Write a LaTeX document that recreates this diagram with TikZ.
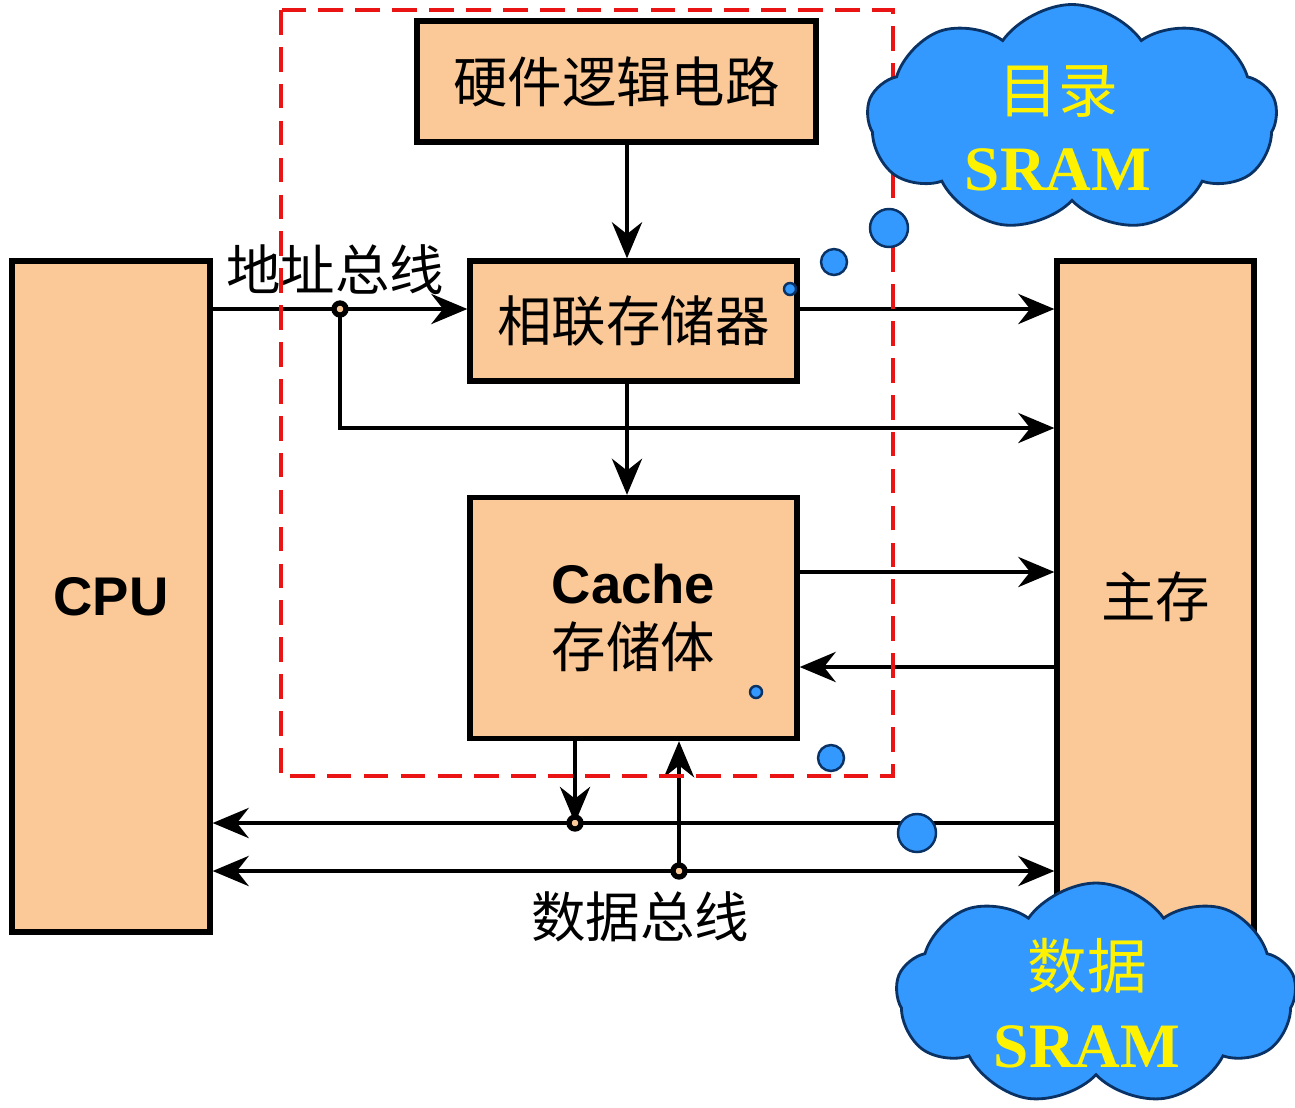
\documentclass[tikz,border=0pt]{standalone}
\usepackage{fontspec}
\setmainfont{Liberation Serif}
\setsansfont{Liberation Sans}
\newfontfamily\cjk{Noto Sans CJK SC}
\usetikzlibrary{arrows.meta,shapes.symbols}
\definecolor{peach}{RGB}{251,201,151}
\definecolor{sky}{RGB}{51,153,255}
\definecolor{navy}{RGB}{10,50,100}
\definecolor{dashred}{RGB}{235,20,20}
\tikzset{
  blk/.style={draw=black,fill=peach,line width=1.5pt,inner sep=0pt,font=\cjk\fontsize{15.5}{19}\selectfont},
  arr/.style={-{Stealth[length=3.6mm,width=3mm]},line width=1.4pt},
  darr/.style={{Stealth[length=3.6mm,width=3mm]}-{Stealth[length=3.6mm,width=3mm]},line width=1.4pt},
  jdot/.style={circle,draw=black,fill=peach,line width=1.5pt,inner sep=0pt,minimum size=1.2mm},
  bubble/.style={circle,draw=navy,fill=sky,line width=0.7pt,inner sep=0pt},
  thought/.style={cloud,cloud puffs=9,cloud puff arc=110,aspect=1.8,draw=navy,fill=sky,
    line width=0.8pt,inner sep=0pt},
  cloudtxt/.style={text=yellow,align=center,inner sep=0pt},
  lbl/.style={font=\cjk\fontsize{15.5}{19}\selectfont},
}

\begin{document}
\begin{tikzpicture}[x=0.1mm,y=-0.1mm]
  \useasboundingbox (0,0) rectangle (1295,1107);
  % boxes
  \node[blk,minimum width=3.99cm,minimum height=1.21cm] (hw) at (616.5,81.5) {硬件逻辑电路};
  \node[blk,minimum width=3.27cm,minimum height=1.2cm] (cam) at (633.5,321) {相联存储器};
  \node[blk,minimum width=3.27cm,minimum height=2.41cm,align=center] (cache) at (633.5,618)
    {{\sffamily\bfseries\fontsize{15.5}{19}\selectfont Cache}\\[-1pt]存储体};
  \node[blk,minimum width=1.98cm,minimum height=6.71cm] (cpu) at (111,596.5)
    {\sffamily\bfseries CPU};
  \node[blk,minimum width=1.97cm,minimum height=6.71cm] (mem) at (1155.5,596.5) {主存};
  % bus points
  \coordinate (vbus) at (627,0);
  \coordinate (aj) at (340,309);
  \coordinate (arow) at (0,428);
  \coordinate (wrow) at (0,572);
  \coordinate (rrow) at (0,667);
  \coordinate (dj1) at (575,823);
  \coordinate (dj2) at (679,871);
  % address side
  \draw[arr] (hw.south -| vbus) -- (cam.north -| vbus);
  \draw[arr] (cpu.east |- aj) -- (cam.west |- aj);
  \draw[arr] (aj) |- (mem.west |- arow);
  \draw[arr] (cam.east |- aj) -- (mem.west |- aj);
  \draw[arr] (cam.south -| vbus) -- (cache.north -| vbus);
  % data side
  \draw[arr] (cache.east |- wrow) -- (mem.west |- wrow);
  \draw[arr] (mem.west |- rrow) -- (cache.east |- rrow);
  \draw[arr] (cache.south -| dj1) -- (dj1);
  \draw[arr] (mem.west |- dj1) -- (cpu.east |- dj1);
  \draw[darr] (cpu.east |- dj2) -- (mem.west |- dj2);
  \draw[arr] (dj2) -- (cache.south -| dj2);
  \node[jdot] (aj dot) at (aj) {};
  \node[jdot] (dj1 dot) at (dj1) {};
  \node[jdot] (dj2 dot) at (dj2) {};
  % labels
  \node[lbl] (addr) at (335,270) {地址总线};
  \node[lbl] (data) at (640,917) {数据总线};
  % cache unit outline
  \draw[dashred,line width=1pt,dash pattern=on 7pt off 3.5pt] (281,10) rectangle (893,776);
  % clouds
  \node[thought,minimum width=4.1cm,minimum height=2.27cm] (dir) at (1072,118) {};
  \node[cloudtxt] (dir txt) at (1058,128)
    {{\cjk\fontsize{17}{20}\selectfont 目录}\\[8pt]{\bfseries\fontsize{18}{22}\selectfont SRAM}};
  \node[thought,minimum width=4cm,minimum height=2.22cm] (dat) at (1096,994) {};
  \node[cloudtxt] (dat txt) at (1087,1003)
    {{\cjk\fontsize{17}{20}\selectfont 数据}\\[8pt]{\bfseries\fontsize{18}{22}\selectfont SRAM}};
  \node[bubble,minimum size=3.8mm] (b1) at (889,228) {};
  \node[bubble,minimum size=2.6mm] (b2) at (834,262) {};
  \node[bubble,minimum size=1.2mm] (b3) at (790,289) {};
  \node[bubble,minimum size=1.2mm] (b4) at (756,692) {};
  \node[bubble,minimum size=2.6mm] (b5) at (831,758) {};
  \node[bubble,minimum size=3.8mm] (b6) at (917,833) {};
\end{tikzpicture}
\end{document}
